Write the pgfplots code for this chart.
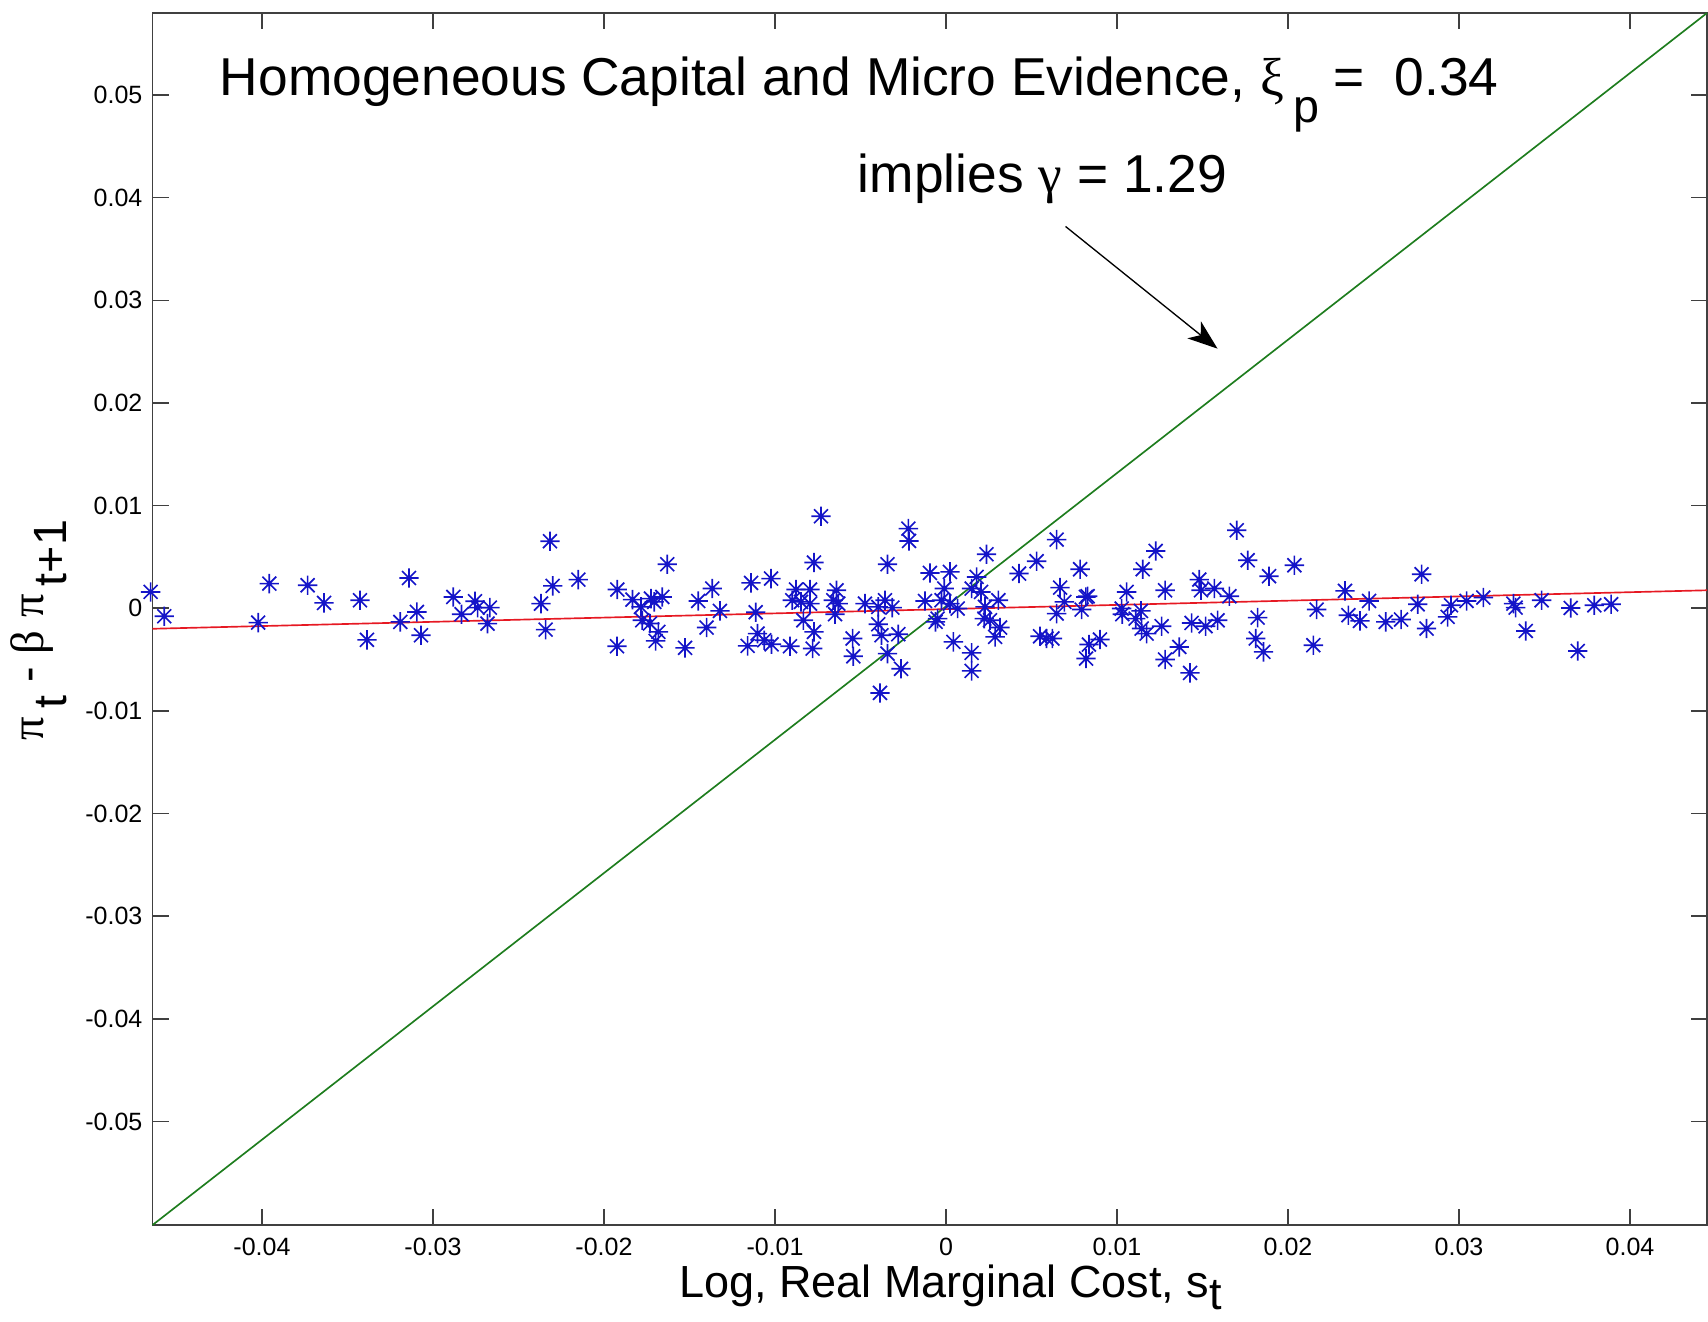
\documentclass[border=0pt]{standalone}
\usepackage{pgfplots}
\pgfplotsset{compat=1.18}
\usepackage{fontspec}
\setmainfont{Liberation Sans}
\newfontfamily\grk{Liberation Serif}
\usetikzlibrary{arrows.meta}
\definecolor{mblue}{RGB}{20,20,200}
\definecolor{mgreen}{RGB}{30,125,30}
\definecolor{mred}{RGB}{230,25,35}
\pgfdeclareplotmark{mstar}{%
  \pgfpathmoveto{\pgfqpoint{-\pgfplotmarksize}{0pt}}%
  \pgfpathlineto{\pgfqpoint{\pgfplotmarksize}{0pt}}%
  \pgfpathmoveto{\pgfqpoint{0pt}{-\pgfplotmarksize}}%
  \pgfpathlineto{\pgfqpoint{0pt}{\pgfplotmarksize}}%
  \pgfpathmoveto{\pgfqpoint{-0.72\pgfplotmarksize}{-0.72\pgfplotmarksize}}%
  \pgfpathlineto{\pgfqpoint{0.72\pgfplotmarksize}{0.72\pgfplotmarksize}}%
  \pgfpathmoveto{\pgfqpoint{-0.72\pgfplotmarksize}{0.72\pgfplotmarksize}}%
  \pgfpathlineto{\pgfqpoint{0.72\pgfplotmarksize}{-0.72\pgfplotmarksize}}%
  \pgfusepathqstroke}
\pgfplotstableread{
x y
-0.04651 0.00159
-0.04571 -0.00078
-0.04022 -0.00140
-0.03957 0.00240
-0.03733 0.00224
-0.03637 0.00052
-0.03427 0.00078
-0.03386 -0.00308
-0.03191 -0.00133
-0.03140 0.00295
-0.03094 -0.00036
-0.03070 -0.00263
-0.02881 0.00110
-0.02833 -0.00058
-0.02754 0.00068
-0.02739 0.00006
-0.02681 -0.00150
-0.02667 0.00006
-0.02316 0.00653
-0.02368 0.00045
-0.02300 0.00218
-0.02341 -0.00208
-0.02150 0.00279
-0.01922 0.00182
-0.01924 -0.00370
-0.01833 0.00084
-0.01784 0.00013
-0.01725 0.00094
-0.01706 0.00062
-0.01659 0.00110
-0.01776 -0.00117
-0.01731 -0.00149
-0.01682 -0.00230
-0.01698 -0.00318
-0.01630 0.00429
-0.01526 -0.00386
-0.01449 0.00071
-0.01367 0.00192
-0.01322 -0.00026
-0.01400 -0.00188
-0.01140 0.00247
-0.01023 0.00289
-0.01113 -0.00039
-0.01102 -0.00247
-0.01160 -0.00367
-0.01063 -0.00312
-0.01020 -0.00351
-0.00912 -0.00370
-0.00731 0.00896
-0.00772 0.00445
-0.00877 0.00182
-0.00795 0.00182
-0.00899 0.00078
-0.00848 0.00062
-0.00795 0.00045
-0.00834 -0.00117
-0.00772 -0.00230
-0.00780 -0.00393
-0.00640 0.00175
-0.00659 0.00078
-0.00630 0.00045
-0.00649 -0.00058
-0.00546 -0.00295
-0.00542 -0.00468
-0.00474 0.00045
-0.00396 0.00013
-0.00357 0.00078
-0.00314 0.00006
-0.00342 0.00429
-0.00396 -0.00156
-0.00377 -0.00263
-0.00279 -0.00253
-0.00342 -0.00442
-0.00263 -0.00590
-0.00220 0.00776
-0.00216 0.00656
-0.00386 -0.00825
-0.00094 0.00344
0.00023 0.00354
0.00237 0.00526
-0.00010 0.00192
-0.00123 0.00071
-0.00026 0.00078
0.00023 0.00045
0.00068 -0.00003
-0.00049 -0.00101
-0.00061 -0.00133
0.00043 -0.00328
0.00150 -0.00435
0.00150 -0.00610
0.00179 0.00305
0.00150 0.00192
0.00205 0.00159
0.00306 0.00078
0.00228 0.00013
0.00224 -0.00101
0.00257 -0.00117
0.00316 -0.00188
0.00287 -0.00279
0.00427 0.00338
0.00530 0.00458
0.00647 0.00669
0.00667 0.00201
0.00692 0.00062
0.00647 -0.00052
0.00784 0.00380
0.00828 0.00117
0.00818 0.00110
0.00793 -0.00013
0.00550 -0.00273
0.00588 -0.00295
0.00622 -0.00295
0.00836 -0.00354
0.00900 -0.00305
0.00819 -0.00490
0.01056 0.00159
0.01027 -0.00003
0.01031 -0.00058
0.01140 -0.00026
0.01109 -0.00101
0.01150 0.00380
0.01226 0.00558
0.01144 -0.00198
0.01173 -0.00247
0.01261 -0.00175
0.01281 0.00175
0.01364 -0.00377
0.01281 -0.00500
0.01427 -0.00630
0.01436 -0.00143
0.01481 0.00279
0.01491 0.00175
0.01569 0.00192
0.01518 -0.00175
0.01588 -0.00117
0.01657 0.00117
0.01700 0.00760
0.01764 0.00468
0.01889 0.00312
0.01822 -0.00091
0.01811 -0.00295
0.01856 -0.00425
0.02037 0.00419
0.02167 -0.00013
0.02148 -0.00360
0.02333 0.00169
0.02353 -0.00068
0.02421 -0.00123
0.02474 0.00071
0.02571 -0.00133
0.02661 -0.00110
0.02758 0.00039
0.02781 0.00331
0.02810 -0.00198
0.02933 -0.00084
0.02953 0.00029
0.03044 0.00071
0.03142 0.00104
0.03318 0.00045
0.03331 0.00006
0.03390 -0.00221
0.03483 0.00078
0.03653 0.00003
0.03694 -0.00416
0.03791 0.00029
0.03889 0.00039
}\datatable
\begin{document}
\begin{tikzpicture}
\begin{axis}[name=ax, scale only axis, width=466.35bp, height=363.6bp,
  xmin=-0.0464, xmax=0.0445, ymin=-0.0601, ymax=0.0580,
  axis line style={black!75, line width=0.45bp},
  tick style={black!75, line width=0.45bp},
  major tick length=4.8bp, tick align=inside,
  scaled ticks=false, clip=false,
  xtick={-0.04,-0.03,-0.02,-0.01,0,0.01,0.02,0.03,0.04},
  xticklabels={-0.04,-0.03,-0.02,-0.01,0,0.01,0.02,0.03,0.04},
  ytick={-0.05,-0.04,-0.03,-0.02,-0.01,0,0.01,0.02,0.03,0.04,0.05},
  yticklabels={-0.05,-0.04,-0.03,-0.02,-0.01,0,0.01,0.02,0.03,0.04,0.05},
  xticklabel style={font=\fontsize{7.5bp}{9bp}\selectfont, inner sep=0pt, anchor=north, yshift=-3.75bp},
  yticklabel style={font=\fontsize{7.5bp}{9bp}\selectfont, inner sep=0pt, anchor=east, xshift=-2.85bp},
]
\addplot[only marks, mark=mstar, mark size=2.9bp, color=mblue, mark options={line width=0.5bp}] table[x=x,y=y] {\datatable};
\addplot[color=mgreen, line width=0.5bp] coordinates {(-0.0464,-0.0601) (0.0445,0.0580)};
\addplot[color=mred, line width=0.5bp] coordinates {(-0.0464,-0.0020) (0.0445,0.00175)};
\draw[-{Stealth[length=9bp,width=6.5bp,inset=2.5bp]}, line width=0.4bp] (axis cs:0.00699,0.0372) -- (axis cs:0.01588,0.02529);
\node[anchor=base west, inner sep=0pt, font=\fontsize{16bp}{19bp}\selectfont] at (axis cs:-0.0425,0.04995)
  {Homogeneous Capital and Micro Evidence, {\grk ξ}\,\raisebox{-0.5em}{\fontsize{14bp}{14bp}\selectfont p} =\ \ 0.34};
\node[anchor=base west, inner sep=0pt, font=\fontsize{16bp}{19bp}\selectfont] at (axis cs:-0.00519,0.04053)
  {implies {\grk γ} = 1.29};
\node[anchor=base west, inner sep=0pt, font=\fontsize{13.5bp}{16bp}\selectfont] at (axis cs:-0.01565,-0.06720)
  {Log, Real Marginal Cost, s\raisebox{-0.25em}{t}};
\node[anchor=base, rotate=90, inner sep=0pt, font=\fontsize{14bp}{16bp}\selectfont] at (axis cs:-0.05279,-0.00212)
  {{\grk π}\,\raisebox{-0.5em}{t} - {\grk β} {\grk π}\,\raisebox{-0.5em}{t+1}};
\end{axis}
\pgfresetboundingbox
\path[use as bounding box] ([shift={(-45.75bp,-28.8bp)}]ax.south west) rectangle ([shift={(0.3bp,3.9bp)}]ax.north east);
\end{tikzpicture}
\end{document}
